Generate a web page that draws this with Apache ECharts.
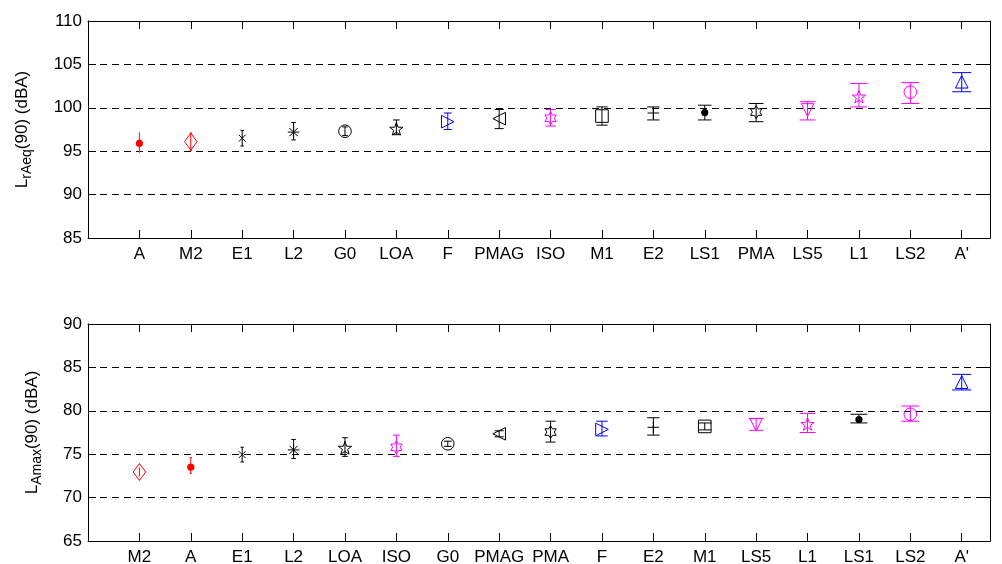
<!DOCTYPE html>
<html>
<head>
<meta charset="utf-8">
<script src="https://cdn.jsdelivr.net/npm/echarts@6/dist/echarts.min.js"></script>
<style>
  html, body { margin: 0; padding: 0; background: #fff; }
  #chart { width: 1002px; height: 564px; }
</style>
</head>
<body>
<div id="chart"></div>
<script>
// top panel: L_rAeq(90)
var topNames = ['A', 'M2', 'E1', 'L2', 'G0', 'LOA', 'F', 'PMAG', 'ISO', 'M1', 'E2', 'LS1', 'PMA', 'LS5', 'L1', 'LS2', "A'"];
var topMean = [95.9, 96.1, 96.5, 97.2, 97.3, 97.6, 98.4, 98.75, 98.8, 99.05, 99.4, 99.45, 99.5, 99.75, 101.3, 101.8, 103.0];
var topLow = [94.9, 95.1, 95.6, 96.3, 96.8, 96.9, 97.5, 97.6, 97.9, 98.0, 98.6, 98.6, 98.4, 98.6, 100.1, 100.5, 101.85];
var topHigh = [97.1, 97.1, 97.4, 98.3, 97.8, 98.6, 99.4, 99.8, 99.8, 100.1, 100.1, 100.3, 100.5, 100.7, 102.8, 102.9, 104.05];

// bottom panel: L_Amax(90)
var botNames = ['M2', 'A', 'E1', 'L2', 'LOA', 'ISO', 'G0', 'PMAG', 'PMA', 'F', 'E2', 'M1', 'LS5', 'L1', 'LS1', 'LS2', "A'"];
var botMean = [72.95, 73.5, 74.95, 75.5, 75.75, 75.8, 76.2, 77.35, 77.55, 77.85, 78.1, 78.2, 78.4, 78.5, 79.0, 79.6, 83.3];
var botLow = [72.5, 72.8, 74.1, 74.5, 74.75, 74.75, 75.9, 77.0, 76.4, 77.1, 77.2, 77.8, 77.75, 77.5, 78.6, 78.8, 82.4];
var botHigh = [73.4, 74.6, 75.8, 76.7, 76.9, 77.2, 76.5, 77.7, 78.8, 78.8, 79.2, 78.6, 79.1, 79.7, 79.6, 80.55, 84.2];

// marker shape + colour for each method
var markers = {
    'A': ['dot', '#ff0000'],
    'M2': ['diamond', '#ff0000'],
    'E1': ['x', '#000000'],
    'L2': ['asterisk', '#000000'],
    'G0': ['circle', '#000000'],
    'LOA': ['pentagram', '#000000'],
    'F': ['triRight', '#0000ff'],
    'PMAG': ['triLeft', '#000000'],
    'ISO': ['hexagram', '#ff00ff'],
    'M1': ['square', '#000000'],
    'E2': ['plus', '#000000'],
    'LS1': ['dot', '#000000'],
    'PMA': ['hexagram', '#000000'],
    'LS5': ['triDown', '#ff00ff'],
    'L1': ['pentagram', '#ff00ff'],
    'LS2': ['circle', '#ff00ff'],
    "A'": ['triUp', '#0000ff']
};

var FONT = '"Liberation Sans", Arial, sans-serif';

function build(names, mean, low, high) {
    return names.map(function (n, i) {
        return [i + 1, mean[i], low[i], high[i]];
    });
}

function starPoints(cx, cy, n, rOut, rIn) {
    var pts = [];
    for (var k = 0; k < 2 * n; k++) {
        var r = k % 2 === 0 ? rOut : rIn;
        var a = -Math.PI / 2 + k * Math.PI / n;
        pts.push([cx + r * Math.cos(a), cy + r * Math.sin(a)]);
    }
    return pts;
}

function makeRender(names) {
    return function (params, api) {
        var x = api.value(0);
        var c = api.coord([x, api.value(1)]);
        var lo = api.coord([x, api.value(2)]);
        var hi = api.coord([x, api.value(3)]);
        var tee = x * 0.011;
        var cl = api.coord([x - tee, 0])[0];
        var cr = api.coord([x + tee, 0])[0];
        var m = markers[names[params.dataIndex]];
        var col = m[1];
        var cx = c[0], cy = c[1];
        var line = { stroke: col, lineWidth: 1, fill: 'none' };
        var kids = [
            { type: 'line', shape: { x1: cx, y1: lo[1], x2: cx, y2: hi[1] }, style: line },
            { type: 'line', shape: { x1: cl, y1: lo[1], x2: cr, y2: lo[1] }, style: line },
            { type: 'line', shape: { x1: cl, y1: hi[1], x2: cr, y2: hi[1] }, style: line }
        ];
        var h = 6.3;
        switch (m[0]) {
            case 'dot':
                kids.push({ type: 'circle', shape: { cx: cx, cy: cy, r: 3.6 }, style: { fill: col } });
                break;
            case 'circle':
                kids.push({ type: 'circle', shape: { cx: cx, cy: cy, r: h }, style: line });
                break;
            case 'diamond':
                kids.push({ type: 'polygon', shape: { points: [[cx, cy - 8.5], [cx + h, cy], [cx, cy + 8.5], [cx - h, cy]] }, style: line });
                break;
            case 'square':
                kids.push({ type: 'rect', shape: { x: cx - h, y: cy - h, width: 2 * h, height: 2 * h }, style: line });
                break;
            case 'x':
                kids.push({ type: 'line', shape: { x1: cx - 3.4, y1: cy - 3.4, x2: cx + 3.4, y2: cy + 3.4 }, style: line });
                kids.push({ type: 'line', shape: { x1: cx - 3.4, y1: cy + 3.4, x2: cx + 3.4, y2: cy - 3.4 }, style: line });
                break;
            case 'plus':
                kids.push({ type: 'line', shape: { x1: cx - 5.8, y1: cy, x2: cx + 5.8, y2: cy }, style: line });
                kids.push({ type: 'line', shape: { x1: cx, y1: cy - 5.8, x2: cx, y2: cy + 5.8 }, style: line });
                break;
            case 'asterisk':
                kids.push({ type: 'line', shape: { x1: cx - 5.8, y1: cy, x2: cx + 5.8, y2: cy }, style: line });
                kids.push({ type: 'line', shape: { x1: cx, y1: cy - 5.8, x2: cx, y2: cy + 5.8 }, style: line });
                kids.push({ type: 'line', shape: { x1: cx - 4.1, y1: cy - 4.1, x2: cx + 4.1, y2: cy + 4.1 }, style: line });
                kids.push({ type: 'line', shape: { x1: cx - 4.1, y1: cy + 4.1, x2: cx + 4.1, y2: cy - 4.1 }, style: line });
                break;
            case 'triRight':
                kids.push({ type: 'polygon', shape: { points: [[cx - h, cy - h], [cx + h, cy], [cx - h, cy + h]] }, style: line });
                break;
            case 'triLeft':
                kids.push({ type: 'polygon', shape: { points: [[cx + h, cy - h], [cx - h, cy], [cx + h, cy + h]] }, style: line });
                break;
            case 'triUp':
                kids.push({ type: 'polygon', shape: { points: [[cx - h, cy + h], [cx, cy - h], [cx + h, cy + h]] }, style: line });
                break;
            case 'triDown':
                kids.push({ type: 'polygon', shape: { points: [[cx - h, cy - h], [cx, cy + h], [cx + h, cy - h]] }, style: line });
                break;
            case 'pentagram':
                kids.push({ type: 'polygon', shape: { points: starPoints(cx, cy + 0.8, 5, 7, 2.8) }, style: line });
                break;
            case 'hexagram':
                kids.push({ type: 'polygon', shape: { points: starPoints(cx, cy, 6, 6.5, 3.75) }, style: line });
                break;
        }
        return { type: 'group', children: kids };
    };
}

function xAxes(names, gridIndex) {
    var base = {
        type: 'value', gridIndex: gridIndex, min: 0, max: 17.55, interval: 1,
        axisLine: { onZero: false, lineStyle: { color: '#000', width: 1 } },
        axisTick: { inside: true, length: 8, lineStyle: { color: '#000' } },
        splitLine: { show: false }
    };
    var bottom = Object.assign({}, base, {
        position: 'bottom',
        axisLabel: {
            color: '#000', fontSize: 17, fontFamily: FONT, margin: 8,
            formatter: function (v) {
                return (Math.round(v) === v && v >= 1 && v <= names.length) ? names[v - 1] : '';
            }
        }
    });
    var top = Object.assign({}, base, { position: 'top', axisLabel: { show: false } });
    return [bottom, top];
}

function yAxes(min, max, name, gridIndex, gap) {
    var base = {
        type: 'value', gridIndex: gridIndex, min: min, max: max, interval: 5,
        axisLine: { onZero: false, lineStyle: { color: '#000', width: 1 } },
        axisTick: { inside: true, length: 8, lineStyle: { color: '#000' } }
    };
    var left = Object.assign({}, base, {
        position: 'left',
        name: name, nameLocation: 'middle', nameGap: gap,
        nameTextStyle: {
            rich: {
                m: { fontSize: 17, fontFamily: FONT, color: '#000', lineHeight: 20, verticalAlign: 'top' },
                s: { fontSize: 14, fontFamily: FONT, color: '#000', lineHeight: 16, padding: [10, 0, 0, 0], verticalAlign: 'bottom' }
            }
        },
        axisLabel: { color: '#000', fontSize: 17, fontFamily: FONT, margin: 6 },
        splitLine: { show: true, lineStyle: { color: '#000', width: 1, type: [7, 5] } }
    });
    var right = Object.assign({}, base, { position: 'right', axisLabel: { show: false }, splitLine: { show: false } });
    return [left, right];
}

var topX = xAxes(topNames, 0), botX = xAxes(botNames, 1);
var topY = yAxes(85, 110, '{m|L}{s|rAeq}{m|(90) (dBA)}', 0, 54);
var botY = yAxes(65, 90, '{m|L}{s|Amax}{m|(90) (dBA)}', 1, 44);

var option = {
    animation: false,
    backgroundColor: '#fff',
    textStyle: { fontFamily: FONT },
    grid: [
        { left: 88, right: 12, top: 21, height: 217, containLabel: false, outerBoundsMode: 'none' },
        { left: 88, right: 12, top: 324, height: 217, containLabel: false, outerBoundsMode: 'none' }
    ],
    xAxis: [topX[0], topX[1], botX[0], botX[1]],
    yAxis: [topY[0], topY[1], botY[0], botY[1]],
    series: [
        {
            type: 'custom', xAxisIndex: 0, yAxisIndex: 0,
            renderItem: makeRender(topNames),
            data: build(topNames, topMean, topLow, topHigh)
        },
        {
            type: 'custom', xAxisIndex: 2, yAxisIndex: 2,
            renderItem: makeRender(botNames),
            data: build(botNames, botMean, botLow, botHigh)
        }
    ]
};

var chart = echarts.init(document.getElementById('chart'), null, { renderer: 'canvas' });
chart.setOption(option);
</script>
</body>
</html>
